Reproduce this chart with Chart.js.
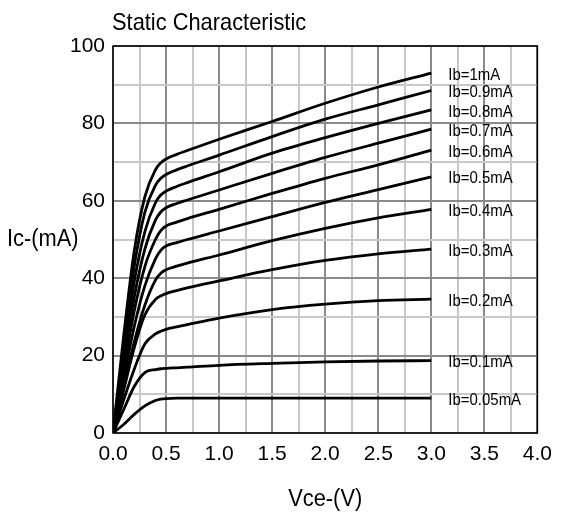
<!DOCTYPE html>
<html>
<head>
<meta charset="utf-8">
<script src="https://cdn.jsdelivr.net/npm/chart.js@4/dist/chart.umd.min.js"></script>
<style>
html,body{margin:0;padding:0;background:#fff;}
#wrap{width:561px;height:516px;position:relative;}
</style>
</head>
<body>
<div id="wrap"><canvas id="c" width="561" height="516"></canvas></div>
<script>
// Vce sample points (V)
const vce = [0, 0.1, 0.2, 0.3, 0.4, 0.45, 0.5, 0.6, 0.7, 1.0, 1.5, 2.0, 2.5, 3.0];
// Ic (mA) for each base current
const ic_1mA   = [0, 25, 47, 61, 68, 69.8, 70.8, 72.0, 73.0, 75.9, 80.5, 85.2, 89.4, 93];
const ic_09mA  = [0, 22, 43, 57, 64, 65.8, 66.8, 68.0, 69.0, 71.8, 76.6, 81.1, 84.8, 88.5];
const ic_08mA  = [0, 20, 39, 52, 59.5, 61.5, 62.5, 63.7, 64.7, 67.5, 72.3, 76.3, 80.0, 83.5];
const ic_07mA  = [0, 18, 35, 47.5, 55, 57.1, 58.2, 59.3, 60.2, 62.8, 67.1, 71.2, 74.9, 78.5];
const ic_06mA  = [0, 16, 31.5, 43, 50, 52.3, 53.5, 54.5, 55.4, 57.8, 61.9, 65.8, 69.3, 73.1];
const ic_05mA  = [0, 14, 27.5, 38, 45, 47.2, 48.3, 49.2, 50.0, 52.2, 55.9, 59.6, 62.9, 66.2];
const ic_04mA  = [0, 12, 23.5, 33, 39.5, 41.3, 42.2, 43.1, 43.9, 46.0, 49.7, 52.9, 55.6, 57.8];
const ic_03mA  = [0, 11, 22, 30.5, 34.5, 35.4, 36.0, 36.8, 37.5, 39.3, 42.2, 44.6, 46.3, 47.5];
const ic_02mA  = [0, 8.5, 16.5, 23, 25.6, 26.3, 26.8, 27.4, 28.0, 29.7, 31.9, 33.3, 34.2, 34.6];
const ic_01mA  = [0, 6, 12, 15.6, 16.4, 16.6, 16.7, 16.85, 17.0, 17.5, 18.0, 18.4, 18.6, 18.7];
const ic_005mA = [0, 2.2, 4.8, 7, 8.4, 8.75, 8.9, 9.0, 9.0, 9.0, 9.0, 9.0, 9.0, 9.0];

const seriesNames = ['Ib=1mA','Ib=0.9mA','Ib=0.8mA','Ib=0.7mA','Ib=0.6mA','Ib=0.5mA','Ib=0.4mA','Ib=0.3mA','Ib=0.2mA','Ib=0.1mA','Ib=0.05mA'];
const seriesValues = [ic_1mA, ic_09mA, ic_08mA, ic_07mA, ic_06mA, ic_05mA, ic_04mA, ic_03mA, ic_02mA, ic_01mA, ic_005mA];

const xTickLabels = ['0.0','0.5','1.0','1.5','2.0','2.5','3.0','3.5','4.0'];
const yTickLabels = ['0','20','40','60','80','100'];

const chartTitle = 'Static Characteristic';
const xTitle = 'Vce-(V)';
const yTitle = 'Ic-(mA)';

const FONT = '"Liberation Sans", Arial, sans-serif';

const datasets = seriesNames.map((name, i) => ({
  label: name,
  data: vce.map((v, k) => ({x: v, y: seriesValues[i][k]})),
  borderColor: '#000',
  borderWidth: 2.8,
  pointRadius: 0,
  fill: false,
  cubicInterpolationMode: 'monotone'
}));

function condensedText(ctx, txt, x, y, sx) {
  ctx.save();
  ctx.translate(x, y);
  ctx.scale(sx, 1);
  ctx.fillText(txt, 0, 0);
  ctx.restore();
}

const textPlugin = {
  id: 'textPlugin',
  beforeDatasetsDraw(chart) {
    const {ctx, chartArea: a} = chart;
    ctx.save();
    ctx.strokeStyle = '#000';
    ctx.lineWidth = 1.5;
    ctx.strokeRect(a.left, a.top, a.right - a.left, a.bottom - a.top);
    ctx.restore();
  },
  afterDraw(chart) {
    const {ctx, chartArea: a, scales} = chart;
    ctx.save();
    ctx.fillStyle = '#000';
    ctx.textBaseline = 'middle';
    // title
    ctx.font = '24px ' + FONT;
    ctx.textAlign = 'left';
    condensedText(ctx, chartTitle, 112, 23, 0.91);
    // y title (horizontal)
    ctx.font = '23px ' + FONT;
    condensedText(ctx, yTitle, 7, (a.top + a.bottom) / 2, 0.95);
    // x title
    ctx.textAlign = 'center';
    condensedText(ctx, xTitle, (a.left + a.right) / 2, 500, 0.95);
    // series labels
    ctx.font = '17px ' + FONT;
    ctx.textAlign = 'left';
    chart.data.datasets.forEach((ds) => {
      const last = ds.data[ds.data.length - 1];
      const px = scales.x.getPixelForValue(last.x) + 17;
      const py = scales.y.getPixelForValue(last.y) + 2;
      condensedText(ctx, ds.label, px, py, 0.88);
    });
    ctx.restore();
  }
};

new Chart(document.getElementById('c'), {
  type: 'line',
  data: {datasets},
  options: {
    responsive: false,
    animation: false,
    layout: {padding: {left: 0, right: 18, top: 46, bottom: 0}},
    plugins: {legend: {display: false}, tooltip: {enabled: false}, title: {display: false}},
    scales: {
      x: {
        type: 'linear', min: 0, max: 4,
        afterFit(s) { s.height = 83; },
        afterBuildTicks(s) {
          const t = [];
          for (let i = 0; i <= 16; i++) t.push({value: i * 0.25});
          s.ticks = t;
        },
        ticks: {
          autoSkip: false, maxRotation: 0, padding: 9, color: '#000',
          font: {family: FONT, size: 21},
          callback(v) {
            const k = Math.round(v / 0.5);
            return Math.abs(v - k * 0.5) < 1e-6 ? xTickLabels[k] : '';
          }
        },
        grid: {
          drawTicks: false, lineWidth: 2,
          color(c) {
            const v = c.tick ? c.tick.value : 0;
            return Math.abs(v / 0.5 - Math.round(v / 0.5)) < 1e-6 ? '#8a8a8a' : '#c8c8c8';
          }
        },
        border: {display: false}
      },
      y: {
        type: 'linear', min: 0, max: 100,
        afterFit(s) { s.width = 113; },
        afterBuildTicks(s) {
          const t = [];
          for (let i = 0; i <= 10; i++) t.push({value: i * 10});
          s.ticks = t;
        },
        ticks: {
          autoSkip: false, padding: 8, color: '#000',
          font: {family: FONT, size: 21},
          callback(v) {
            return v % 20 === 0 ? yTickLabels[v / 20] : '';
          }
        },
        grid: {
          drawTicks: false, lineWidth: 2,
          color(c) {
            const v = c.tick ? c.tick.value : 0;
            return v % 20 === 0 ? '#8a8a8a' : '#c8c8c8';
          }
        },
        border: {display: false}
      }
    }
  },
  plugins: [textPlugin]
});
</script>
</body>
</html>
